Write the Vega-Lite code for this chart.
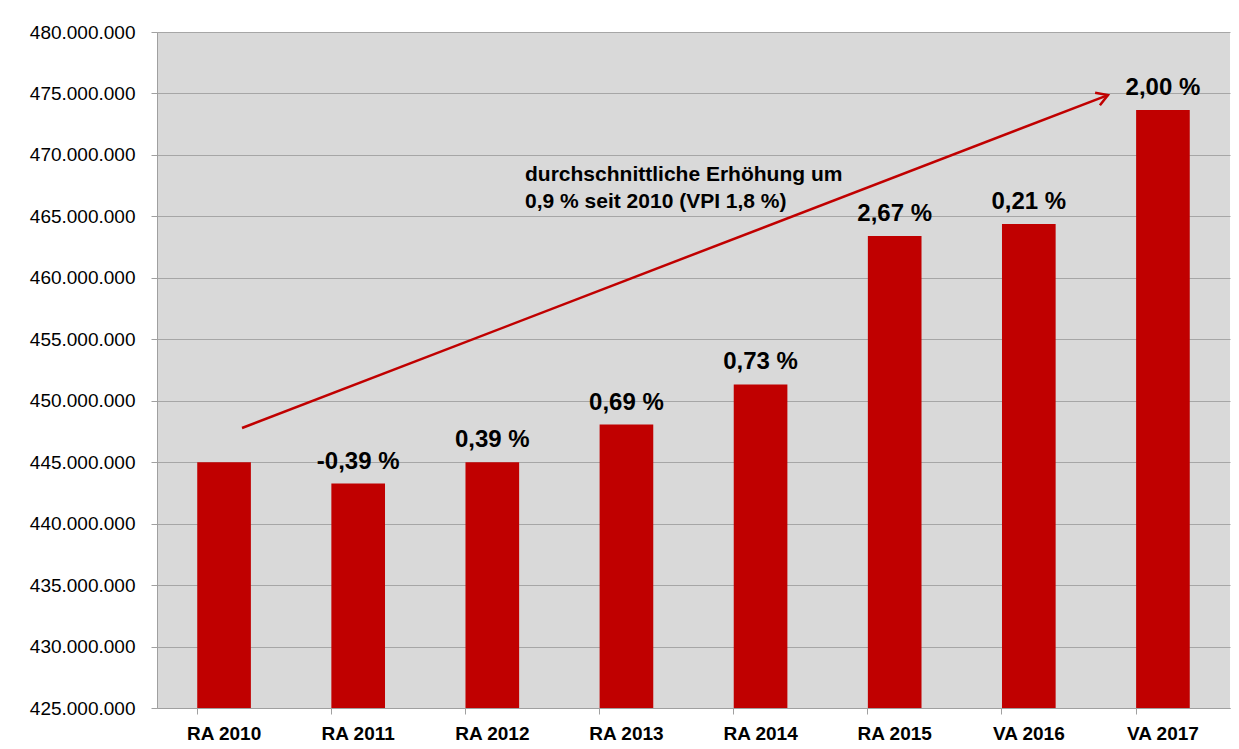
{
  "$schema": "https://vega.github.io/schema/vega-lite/v6.json",
  "autosize": {"type": "none"},
  "width": 1073,
  "height": 676,
  "padding": {"left": 157, "top": 32, "right": 9, "bottom": 41},
  "background": "white",
  "config": {
    "locale": {"number": {"decimal": ",", "thousands": ".", "grouping": [3], "currency": ["", " €"]}},
    "view": {"fill": "#D9D9D9", "stroke": null},
    "font": "Liberation Sans"
  },
  "datasets": {
    "bars": [
      {"jahr": "RA 2010", "wert": 445000000, "label": ""},
      {"jahr": "RA 2011", "wert": 443260000, "label": "-0,39 %"},
      {"jahr": "RA 2012", "wert": 444990000, "label": "0,39 %"},
      {"jahr": "RA 2013", "wert": 448060000, "label": "0,69 %"},
      {"jahr": "RA 2014", "wert": 451330000, "label": "0,73 %"},
      {"jahr": "RA 2015", "wert": 463400000, "label": "2,67 %"},
      {"jahr": "VA 2016", "wert": 464370000, "label": "0,21 %"},
      {"jahr": "VA 2017", "wert": 473650000, "label": "2,00 %"}
    ],
    "arrow": [
      {"pos": 0.634, "wert": 447780000},
      {"pos": 7.09, "wert": 474870000}
    ],
    "arrowhead": [
      {"pos": 7.09, "wert": 474870000}
    ],
    "note": [
      {"pos": 2.744, "wert": 467850000, "text": "durchschnittliche Erhöhung um"},
      {"pos": 2.744, "wert": 465650000, "text": "0,9 %  seit 2010 (VPI 1,8 %)"}
    ]
  },
  "layer": [
    {
      "data": {"name": "bars"},
      "encoding": {
        "x": {
          "field": "jahr", "type": "nominal", "sort": null,
          "scale": {"paddingInner": 0.6, "paddingOuter": 0.3},
          "axis": {
            "title": null, "labelAngle": 0, "labelFont": "Liberation Sans", "labelFontSize": 19,
            "labelFontWeight": "bold", "labelColor": "#000000", "labelPadding": 10,
            "domainColor": "#A0A0A0", "tickColor": "#A0A0A0", "tickSize": 6, "bandPosition": 0,
            "grid": false
          }
        },
        "y": {
          "field": "wert", "type": "quantitative",
          "scale": {"domain": [425000000, 480000000], "zero": false, "nice": false},
          "axis": {
            "title": null, "format": ",d", "labelOverlap": false,
            "values": [425000000, 430000000, 435000000, 440000000, 445000000, 450000000, 455000000, 460000000, 465000000, 470000000, 475000000, 480000000],
            "labelFont": "Liberation Sans", "labelFontSize": 19, "labelColor": "#000000", "labelPadding": 16,
            "domainColor": "#A0A0A0", "tickColor": "#A0A0A0", "tickSize": 6,
            "grid": true, "gridColor": "#A6A6A6", "gridWidth": 1
          }
        }
      },
      "layer": [
        {
          "mark": {"type": "bar", "color": "#C00000"},
          "encoding": {"y2": {"datum": 425000000}}
        },
        {
          "mark": {"type": "text", "baseline": "alphabetic", "dy": -15, "fontSize": 24, "fontWeight": "bold", "color": "#000000", "font": "Liberation Sans"},
          "encoding": {"text": {"field": "label"}}
        }
      ]
    },
    {
      "data": {"name": "arrow"},
      "mark": {"type": "line", "color": "#C00000", "strokeWidth": 2.5},
      "encoding": {
        "x": {"field": "pos", "type": "quantitative", "scale": {"domain": [0, 8], "nice": false, "zero": false}, "axis": null},
        "y": {"field": "wert", "type": "quantitative"}
      }
    },
    {
      "data": {"name": "arrowhead"},
      "mark": {"type": "point", "shape": "M-1,-0.6L0,0L-1,0.6", "filled": false, "stroke": "#C00000", "strokeWidth": 2.5, "size": 500, "angle": 339, "opacity": 1},
      "encoding": {
        "x": {"field": "pos", "type": "quantitative", "scale": {"domain": [0, 8], "nice": false, "zero": false}, "axis": null},
        "y": {"field": "wert", "type": "quantitative"}
      }
    },
    {
      "data": {"name": "note"},
      "mark": {"type": "text", "align": "left", "baseline": "alphabetic", "fontSize": 21, "fontWeight": "bold", "color": "#000000", "font": "Liberation Sans"},
      "encoding": {
        "x": {"field": "pos", "type": "quantitative", "scale": {"domain": [0, 8], "nice": false, "zero": false}, "axis": null},
        "y": {"field": "wert", "type": "quantitative"},
        "text": {"field": "text"}
      }
    }
  ],
  "resolve": {"scale": {"x": "independent"}}
}
